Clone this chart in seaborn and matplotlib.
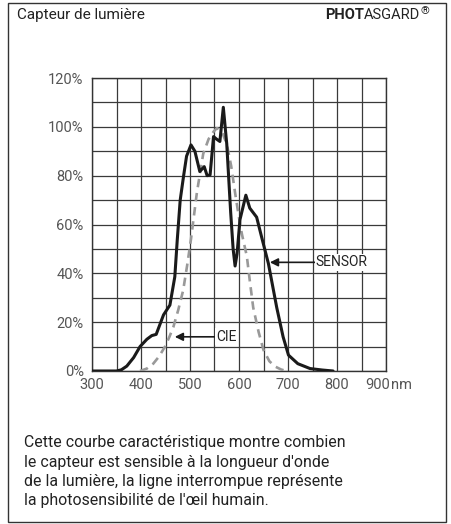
import matplotlib
matplotlib.use("Agg")
import matplotlib.pyplot as plt
import seaborn as sns
import pandas as pd
from matplotlib.patches import Rectangle

# sensor response curve (nm, %)
sensor_nm = [300, 350, 360, 371, 385, 398, 412, 422, 431, 446, 459, 469, 474, 480,
             487, 493, 502, 510, 520, 529, 535, 541, 548, 554, 561, 568, 575, 583,
             588, 592, 596, 602, 614, 622, 636, 646, 660, 677, 690, 701, 720, 745,
             770, 792]
sensor_pct = [0, 0, 0.5, 2, 5.5, 10, 13, 14.5, 15, 23, 27, 38.6, 53.7, 70,
              80, 88, 92.6, 90, 81.7, 83.7, 80, 80.3, 96, 95, 94, 108, 93, 65,
              50, 43, 48, 62, 72, 66.7, 63, 55, 44, 26, 14, 6.5, 3, 1,
              0.4, 0]

# CIE eye sensitivity (dashed)
cie_nm = [398, 412, 425, 437, 449, 458, 466, 476, 486, 494, 502, 514, 527, 538,
          548, 555, 565, 575, 584, 592, 599, 606, 616, 622, 629, 640, 650, 662,
          674, 686, 697]
cie_pct = [0, 1, 3, 6, 10, 14, 18, 25, 33, 43, 54, 73, 89, 95,
           98, 99.5, 98, 93, 84, 73, 64, 56, 47, 37, 26, 16, 8.6, 4,
           1.8, 0.6, 0]

x_labels = ["300", "", "400", "", "500", "", "600", "", "700", "", "800", "", ""]
y_labels = ["0%", "", "20%", "", "40%", "", "60%", "", "80%", "", "100%", "", "120%"]

sns.set_style("white")
plt.rcParams['font.family'] = ['Roboto', 'DejaVu Sans']

fig = plt.figure(figsize=(4.52, 5.24), dpi=100)
ax = fig.add_axes([92 / 452, 1 - 371 / 524, 294 / 452, 293 / 524])

df_s = pd.DataFrame({"nm": sensor_nm, "pct": sensor_pct})
df_c = pd.DataFrame({"nm": cie_nm, "pct": cie_pct})

sns.lineplot(data=df_c, x="nm", y="pct", ax=ax, color="#999999", lw=1.9,
             linestyle=(0, (3.2, 2.2)), zorder=3)
sns.lineplot(data=df_s, x="nm", y="pct", ax=ax, color="#1a1a1a", lw=2.2, zorder=4)

ax.set_xlim(300, 900)
ax.set_ylim(0, 120)
ax.set_xticks(range(300, 901, 50))
ax.set_xticklabels(x_labels)
ax.set_yticks(range(0, 121, 10))
ax.set_yticklabels(y_labels)
ax.tick_params(length=0, labelsize=10.5, colors="#555555")
ax.tick_params(axis="x", pad=5)
ax.tick_params(axis="y", pad=6)
ax.grid(True, color="#3a3a3a", lw=0.9)
ax.set_xlabel("")
ax.set_ylabel("")
for s in ax.spines.values():
    s.set_color("#333333")
    s.set_linewidth(1.0)

# "900 nm" label, shifted like the original
lab_y = 1 - 385 / 524
fig.text(390 / 452, lab_y, "900", ha="right", va="center", fontsize=10.5, color="#555555")
fig.text(391 / 452, lab_y, "nm", ha="left", va="center", fontsize=10.5, color="#555555")

# annotations
ax.annotate("", xy=(663, 44.5), xytext=(756, 44.5),
            arrowprops=dict(arrowstyle="-|>", color="#1a1a1a", lw=1.2,
                            mutation_scale=12, shrinkA=0, shrinkB=0), zorder=5)
ax.text(757, 44.5, "SENSOR", ha="left", va="center", fontsize=10, color="#222222",
        bbox=dict(facecolor="white", edgecolor="none", pad=1), zorder=5)
ax.annotate("", xy=(469, 14), xytext=(552, 14),
            arrowprops=dict(arrowstyle="-|>", color="#1a1a1a", lw=1.2,
                            mutation_scale=12, shrinkA=0, shrinkB=0), zorder=5)
ax.text(553, 14, "CIE", ha="left", va="center", fontsize=10, color="#222222",
        bbox=dict(facecolor="white", edgecolor="none", pad=1), zorder=5)

# frame and header
fig.patches.append(Rectangle((8 / 452, 2 / 524), 438 / 452, 519 / 524,
                             transform=fig.transFigure, fill=False,
                             edgecolor="#333333", lw=1.0))
fig.text(17 / 452, 1 - 15 / 524, "Capteur de lumière", ha="left", va="center",
         fontsize=11, color="#222222")

head_y = 1 - 15 / 524
reg = fig.text(429 / 452, 1 - 11 / 524, "®", ha="right", va="center",
               fontsize=8, color="#222222")
fig.canvas.draw()
x_right = reg.get_window_extent().x0 / fig.bbox.width
asg = fig.text(x_right, head_y, "ASGARD", ha="right", va="center",
               fontsize=10.5, color="#222222")
fig.canvas.draw()
x_right = asg.get_window_extent().x0 / fig.bbox.width
fig.text(x_right, head_y, "PHOT", ha="right", va="center",
         fontsize=10.5, color="#222222", fontweight="bold")

body = ["Cette courbe caractéristique montre combien",
        "le capteur est sensible à la longueur d'onde",
        "de la lumière, la ligne interrompue représente",
        "la photosensibilité de l'œil humain."]
for i, line in enumerate(body):
    fig.text(24 / 452, 1 - (443 + i * 19.3) / 524, line, ha="left", va="center",
             fontsize=11.4, color="#222222")

fig.savefig("out.png", dpi=100)
